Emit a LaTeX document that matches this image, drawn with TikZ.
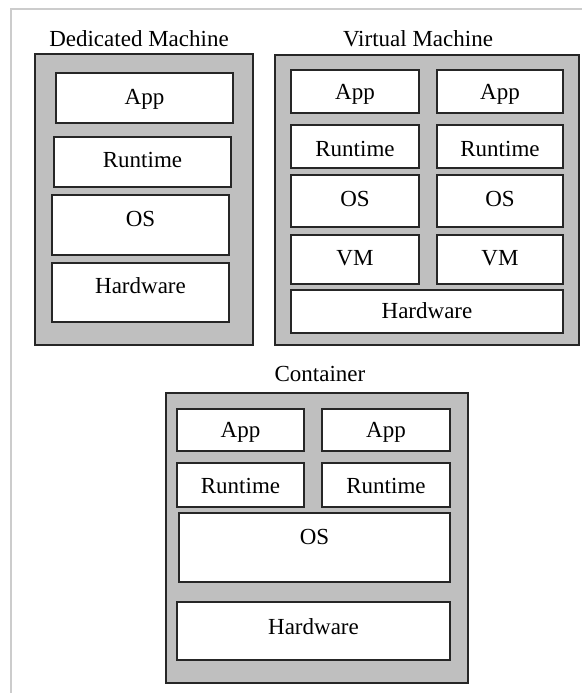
\documentclass[tikz,border=0pt]{standalone}
\usepackage{fontspec}
\setmainfont{Liberation Serif}
\tikzset{
  outerbox/.style={draw=black!85, line width=1.6pt, fill=black!25},
  layerbox/.style={draw=black!85, line width=1.6pt, fill=white},
  title/.style={font=\fontsize{23}{26}\selectfont, anchor=base, inner sep=0pt},
  lbl/.style={font=\fontsize{23}{26}\selectfont, anchor=base, inner sep=0pt},
}
\begin{document}
\begin{tikzpicture}[x=1pt,y=-1pt]
\useasboundingbox (0,0) rectangle (582,693);
\draw[black!20, line width=1.5pt] (11,693) -- (11,9) -- (582,9);

% Dedicated Machine
\node[title] (tdm) at (139,47) {Dedicated Machine};
\draw[outerbox] (35,54) rectangle (253,345);
\draw[layerbox] (56,73) rectangle (233,123);
\node[lbl] (dmapp) at (144.5,104) {App};
\draw[layerbox] (54,137) rectangle (231,187);
\node[lbl] (dmrt) at (142.5,167) {Runtime};
\draw[layerbox] (52,195) rectangle (229,255);
\node[lbl] (dmos) at (140.5,226) {OS};
\draw[layerbox] (52,263) rectangle (229,322);
\node[lbl] (dmhw) at (140.5,293) {Hardware};

% Virtual Machine
\node[title] (tvm) at (418,47) {Virtual Machine};
\draw[outerbox] (275,55) rectangle (579,345);
\foreach \xa/\xb/\c in {291/419/a, 437/563/b}{
  \draw[layerbox] (\xa,70) rectangle (\xb,113);
  \node[lbl] (vmapp\c) at ({(\xa+\xb)/2},99) {App};
  \draw[layerbox] (\xa,125) rectangle (\xb,168);
  \node[lbl] (vmrt\c) at ({(\xa+\xb)/2},156) {Runtime};
  \draw[layerbox] (\xa,175) rectangle (\xb,227);
  \node[lbl] (vmos\c) at ({(\xa+\xb)/2},206) {OS};
  \draw[layerbox] (\xa,235) rectangle (\xb,284);
  \node[lbl] (vmvm\c) at ({(\xa+\xb)/2},265) {VM};
}
\draw[layerbox] (291,290) rectangle (563,333);
\node[lbl] (vmhw) at (427,318) {Hardware};

% Container
\node[title] (tc) at (320,381) {Container};
\draw[outerbox] (166,393) rectangle (468,683);
\foreach \xa/\xb/\c in {177/304/a, 322/450/b}{
  \draw[layerbox] (\xa,409) rectangle (\xb,451);
  \node[lbl] (capp\c) at ({(\xa+\xb)/2},437) {App};
  \draw[layerbox] (\xa,463) rectangle (\xb,507);
  \node[lbl] (crt\c) at ({(\xa+\xb)/2},493) {Runtime};
}
\draw[layerbox] (179,513) rectangle (450,582);
\node[lbl] (cos) at (314.5,544) {OS};
\draw[layerbox] (177,602) rectangle (450,660);
\node[lbl] (chw) at (313.5,634) {Hardware};
\end{tikzpicture}
\end{document}
